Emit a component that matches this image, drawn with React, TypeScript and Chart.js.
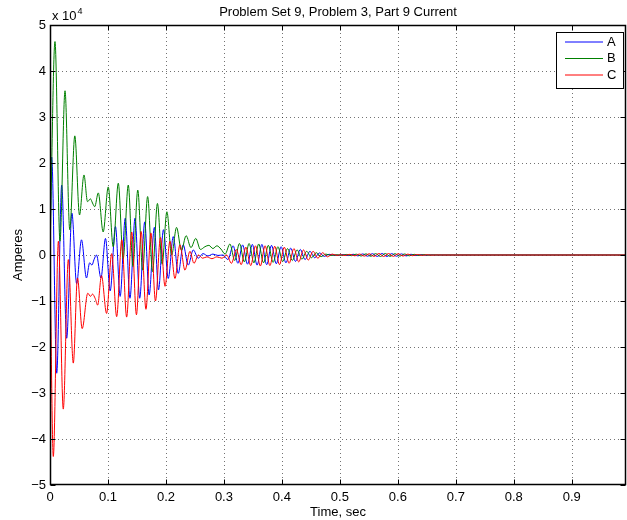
import React, { useEffect, useRef } from "react";
import { Chart, registerables } from "chart.js";

Chart.register(...registerables);

// ---------- axis setup ----------
const X_MIN = 0;
const X_MAX = 0.9935;
const Y_MIN = -5;
const Y_MAX = 5;
const xTicks = [0, 0.1, 0.2, 0.3, 0.4, 0.5, 0.6, 0.7, 0.8, 0.9];
const xTickLabels = ["0", "0.1", "0.2", "0.3", "0.4", "0.5", "0.6", "0.7", "0.8", "0.9"];
const yTicks = [-5, -4, -3, -2, -1, 0, 1, 2, 3, 4, 5];
const yTickLabels = ["\u22125", "\u22124", "\u22123", "\u22122", "\u22121", "0", "1", "2", "3", "4", "5"];
const titleText = "Problem Set 9, Problem 3, Part 9 Current";
const xTitle = "Time, sec";
const yTitle = "Amperes";
const seriesNames = ["A", "B", "C"];
const seriesColors = ["#0000ff", "#008000", "#ff0000"];

// ---------- data (time in s, current in units of 10^4 A) ----------
const tA = [
  0, 0.0029, 0.0116, 0.0202, 0.0288, 0.0378, 0.0459, 0.0543, 0.0629, 0.0684, 0.0724, 0.0759, 0.0802,
  0.0879, 0.0957, 0.1038, 0.1129, 0.121, 0.1298, 0.1379, 0.1467, 0.1547, 0.1634, 0.171, 0.18, 0.1871,
  0.1957, 0.204, 0.2126, 0.2212, 0.2298, 0.2384, 0.2471, 0.2557, 0.2638, 0.2724, 0.281, 0.2897, 0.2983,
  0.3069, 0.3159, 0.3241, 0.3322, 0.3407, 0.349, 0.3572, 0.3655, 0.3738, 0.3821, 0.3903, 0.3986, 0.4069,
  0.4152, 0.4234, 0.4317, 0.44, 0.4483, 0.4566, 0.4648, 0.4731, 0.4814, 0.4897,
  0.4978, 0.5061, 0.5145, 0.5228, 0.5311, 0.5395, 0.5478, 0.5561, 0.5645, 0.5728, 0.5811, 0.5895,
  0.5978, 0.6061, 0.6145, 0.6228, 0.6311, 0.6395, 0.6478, 0.6561, 0.6645, 0.6728, 0.7, 0.9935,
];
const vA = [
  0, 2.13, -2.57, 1.52, -1.81, 0.91, -0.62, 0.33, -0.5, -0.17, -0.22, -0.1, 0.0,
  -0.5, 0.36, -0.78, 0.62, -0.9, 0.8, -0.94, 0.8, -0.94, 0.72, -0.87, 0.6, -0.76,
  0.55, -0.51, 0.4, -0.4, 0.22, -0.22, 0.11, -0.07, 0.03, -0.02, 0.02, -0.01, 0.0,
  -0.1, 0.2, -0.18, 0.22, -0.2, 0.23, -0.22, 0.23, -0.21, 0.21, -0.19, 0.18, -0.17,
  0.15, -0.14, 0.12, -0.1, 0.08, -0.06, 0.045, -0.03, 0.015, -0.005,
  -0.006, 0.009, -0.013, 0.016, -0.019, 0.023, -0.026, 0.029, -0.031, 0.032, -0.032, 0.03,
  -0.027, 0.024, -0.02, 0.016, -0.012, 0.009, -0.006, 0.003, -0.001, 0, 0, 0,
];

const tB = [
  0, 0.0086, 0.0172, 0.0259, 0.0341, 0.0428, 0.0509, 0.0586, 0.0647, 0.0698, 0.0733, 0.0771, 0.0833,
  0.0917, 0.1005, 0.109, 0.1178, 0.1262, 0.135, 0.1431, 0.1514, 0.1598, 0.1684, 0.1769, 0.1853, 0.1934,
  0.2016, 0.2098, 0.2183, 0.2267, 0.2348, 0.2431, 0.2514, 0.2595, 0.2672, 0.2741, 0.281, 0.2879, 0.2948,
  0.3021, 0.3103, 0.3186, 0.3267, 0.3352, 0.3434, 0.3517, 0.36, 0.3683, 0.3766, 0.3848, 0.3931, 0.4014,
  0.4097, 0.4179, 0.4262, 0.4345, 0.4428, 0.451, 0.4593, 0.4676, 0.4759, 0.4841,
  0.495, 0.5033, 0.5117, 0.52, 0.5283, 0.5367, 0.545, 0.5533, 0.5617, 0.57, 0.5783, 0.5867,
  0.595, 0.6033, 0.6117, 0.62, 0.6283, 0.6367, 0.645, 0.6533, 0.6617, 0.67, 0.7, 0.9935,
];
const vB = [
  0, 4.64, 0.3, 3.57, 0.55, 2.59, 0.87, 1.74, 1.16, 1.22, 1.13, 1.05, 1.35,
  0.5, 1.48, 0.18, 1.56, -0.08, 1.52, -0.25, 1.41, -0.33, 1.27, -0.36, 1.12, -0.2,
  0.94, 0.0, 0.6, 0.1, 0.42, 0.16, 0.36, 0.12, 0.18, 0.21, 0.14, 0.2, 0.13,
  0.02, 0.24, -0.12, 0.25, -0.15, 0.25, -0.17, 0.24, -0.17, 0.21, -0.16, 0.18, -0.14,
  0.14, -0.12, 0.11, -0.09, 0.08, -0.06, 0.05, -0.035, 0.02, -0.01,
  0.005, -0.008, 0.012, -0.015, 0.018, -0.022, 0.025, -0.028, 0.03, -0.032, 0.032, -0.03,
  0.028, -0.025, 0.022, -0.018, 0.014, -0.01, 0.007, -0.004, 0.002, 0, 0, 0,
];

const tC = [
  0, 0.0057, 0.0145, 0.0229, 0.0316, 0.0402, 0.0474, 0.0555, 0.0652, 0.0698, 0.0733, 0.0781, 0.0822,
  0.0888, 0.0976, 0.1064, 0.115, 0.1238, 0.1322, 0.1409, 0.1491, 0.1572, 0.1655, 0.1741, 0.1819, 0.1905,
  0.1984, 0.2069, 0.2155, 0.2241, 0.2328, 0.2414, 0.2483, 0.256, 0.2633, 0.2707, 0.2793, 0.2879, 0.2966,
  0.3045, 0.3131, 0.3214, 0.3297, 0.3379, 0.3462, 0.3545, 0.3628, 0.371, 0.3793, 0.3876, 0.3959, 0.4041,
  0.4124, 0.4207, 0.429, 0.4372, 0.4455, 0.4538, 0.4621, 0.4703, 0.4786, 0.4869, 0.4952,
  0.5005, 0.5089, 0.5172, 0.5255, 0.5339, 0.5422, 0.5505, 0.5589, 0.5672, 0.5755, 0.5839, 0.5922,
  0.6005, 0.6089, 0.6172, 0.6255, 0.6339, 0.6422, 0.6505, 0.6589, 0.6672, 0.6755, 0.7, 0.9935,
];
const vC = [
  0, -4.38, 0.3, -3.35, -0.1, -2.35, -0.5, -1.6, -0.83, -0.9, -0.85, -0.95, -1.09,
  -0.45, -1.27, 0.03, -1.34, 0.33, -1.35, 0.5, -1.3, 0.51, -1.18, 0.48, -1.0, 0.38,
  -0.68, 0.3, -0.51, 0.22, -0.33, 0.08, -0.18, 0.0, -0.07, -0.04, -0.08, -0.04, -0.07,
  0.0, -0.18, 0.12, -0.21, 0.17, -0.23, 0.2, -0.24, 0.2, -0.23, 0.19, -0.21, 0.17,
  -0.18, 0.14, -0.15, 0.11, -0.11, 0.08, -0.07, 0.05, -0.04, 0.02, -0.01,
  0.007, -0.01, 0.014, -0.017, 0.02, -0.024, 0.027, -0.03, 0.032, -0.033, 0.032, -0.03,
  0.027, -0.023, 0.019, -0.015, 0.011, -0.008, 0.005, -0.003, 0.001, 0, 0, 0,
];

const seriesTimes = [tA, tB, tC];
const seriesValues = [vA, vB, vC];

const FONT = '"Liberation Sans", Arial, Helvetica, sans-serif';

const matlabAxes = {
  id: "matlabAxes",
  beforeDatasetsDraw(chart: any) {
    const { ctx, chartArea: a, scales } = chart;
    const xs = scales.x;
    const ys = scales.y;
    ctx.save();
    ctx.fillStyle = "#ffffff";
    ctx.fillRect(a.left, a.top, a.right - a.left, a.bottom - a.top);
    ctx.strokeStyle = "rgba(0,0,0,0.55)";
    ctx.lineWidth = 1;
    ctx.setLineDash([1, 3]);
    xTicks.forEach((v) => {
      if (v === 0) return;
      const px = Math.round(xs.getPixelForValue(v)) + 0.5;
      ctx.beginPath();
      ctx.moveTo(px, a.top);
      ctx.lineTo(px, a.bottom);
      ctx.stroke();
    });
    yTicks.forEach((v) => {
      if (v === Y_MIN || v === Y_MAX) return;
      const py = Math.round(ys.getPixelForValue(v)) + 0.5;
      ctx.beginPath();
      ctx.moveTo(a.left, py);
      ctx.lineTo(a.right, py);
      ctx.stroke();
    });
    ctx.restore();
  },
  afterDatasetsDraw(chart: any) {
    const { ctx, chartArea: a, scales } = chart;
    const xs = scales.x;
    const ys = scales.y;
    ctx.save();
    ctx.setLineDash([]);
    ctx.strokeStyle = "#000";
    ctx.lineWidth = 1;
    const L = Math.round(a.left) + 0.5;
    const R = Math.round(a.right) - 0.5;
    const T = Math.round(a.top) + 0.5;
    const B = Math.round(a.bottom) - 0.5;
    // ticks (inside)
    const tl = 5;
    xTicks.forEach((v) => {
      const px = Math.round(xs.getPixelForValue(v)) + 0.5;
      ctx.beginPath();
      ctx.moveTo(px, B);
      ctx.lineTo(px, B - tl);
      ctx.moveTo(px, T);
      ctx.lineTo(px, T + tl);
      ctx.stroke();
    });
    yTicks.forEach((v) => {
      const py = Math.round(ys.getPixelForValue(v)) + 0.5;
      ctx.beginPath();
      ctx.moveTo(L, py);
      ctx.lineTo(L + tl, py);
      ctx.moveTo(R, py);
      ctx.lineTo(R - tl, py);
      ctx.stroke();
    });
    // box
    ctx.lineWidth = 1.5;
    ctx.strokeRect(L, T, R - L, B - T);

    // tick labels
    ctx.fillStyle = "#000";
    ctx.font = `13px ${FONT}`;
    ctx.textAlign = "center";
    ctx.textBaseline = "top";
    xTicks.forEach((v, i) => {
      ctx.fillText(xTickLabels[i], xs.getPixelForValue(v), a.bottom + 6);
    });
    ctx.textAlign = "right";
    ctx.textBaseline = "middle";
    yTicks.forEach((v, i) => {
      ctx.fillText(yTickLabels[i], a.left - 4, ys.getPixelForValue(v));
    });
    // exponent
    ctx.textAlign = "left";
    ctx.textBaseline = "alphabetic";
    ctx.fillText("x 10", a.left + 2, a.top - 5);
    const w = ctx.measureText("x 10").width;
    ctx.font = `9px ${FONT}`;
    ctx.fillText("4", a.left + 3 + w, a.top - 11);

    // titles
    ctx.font = `13px ${FONT}`;
    ctx.textAlign = "center";
    ctx.textBaseline = "middle";
    ctx.fillText(titleText, (a.left + a.right) / 2, 12);
    ctx.fillText(xTitle, (a.left + a.right) / 2, 512);
    ctx.save();
    ctx.translate(18, (a.top + a.bottom) / 2);
    ctx.rotate(-Math.PI / 2);
    ctx.fillText(yTitle, 0, 0);
    ctx.restore();

    // legend
    const lx = 556.5, ly = 32.5, lw = 67, lh = 56;
    ctx.fillStyle = "#fff";
    ctx.fillRect(lx, ly, lw, lh);
    ctx.strokeStyle = "#000";
    ctx.lineWidth = 1;
    ctx.strokeRect(lx, ly, lw, lh);
    seriesNames.forEach((name, i) => {
      const yy = 42 + i * 16.5;
      ctx.strokeStyle = seriesColors[i];
      ctx.lineWidth = 1;
      ctx.beginPath();
      ctx.moveTo(565, yy);
      ctx.lineTo(603, yy);
      ctx.stroke();
      ctx.fillStyle = "#000";
      ctx.textAlign = "left";
      ctx.textBaseline = "middle";
      ctx.font = `13px ${FONT}`;
      ctx.fillText(name, 607, yy);
    });
    ctx.restore();
  },
};

export default function App() {
  const ref = useRef<HTMLCanvasElement | null>(null);
  useEffect(() => {
    if (!ref.current) return;
    const datasets = seriesNames.map((name, i) => ({
      label: name,
      data: seriesTimes[i].map((t, j) => ({ x: t, y: seriesValues[i][j] })),
      borderColor: seriesColors[i],
      backgroundColor: seriesColors[i],
      borderWidth: 1,
      pointRadius: 0,
      fill: false,
      cubicInterpolationMode: "monotone" as const,
      order: 3 - i,
    }));
    const chart = new Chart(ref.current, {
      type: "line",
      data: { datasets },
      options: {
        responsive: false,
        animation: false,
        devicePixelRatio: 1,
        layout: { padding: { left: 50, right: 1, top: 25, bottom: 35 } },
        scales: {
          x: { type: "linear", display: false, min: X_MIN, max: X_MAX },
          y: { type: "linear", display: false, min: Y_MIN, max: Y_MAX },
        },
        plugins: {
          legend: { display: false },
          tooltip: { enabled: false },
          title: { display: false },
        },
        events: [],
      },
      plugins: [matlabAxes],
    });
    return () => chart.destroy();
  }, []);
  return (
    <div style={{ position: "absolute", left: 0, top: 0, width: 627, height: 520, background: "#fff" }}>
      <canvas ref={ref} width={627} height={520} style={{ width: 627, height: 520, display: "block" }} />
    </div>
  );
}
